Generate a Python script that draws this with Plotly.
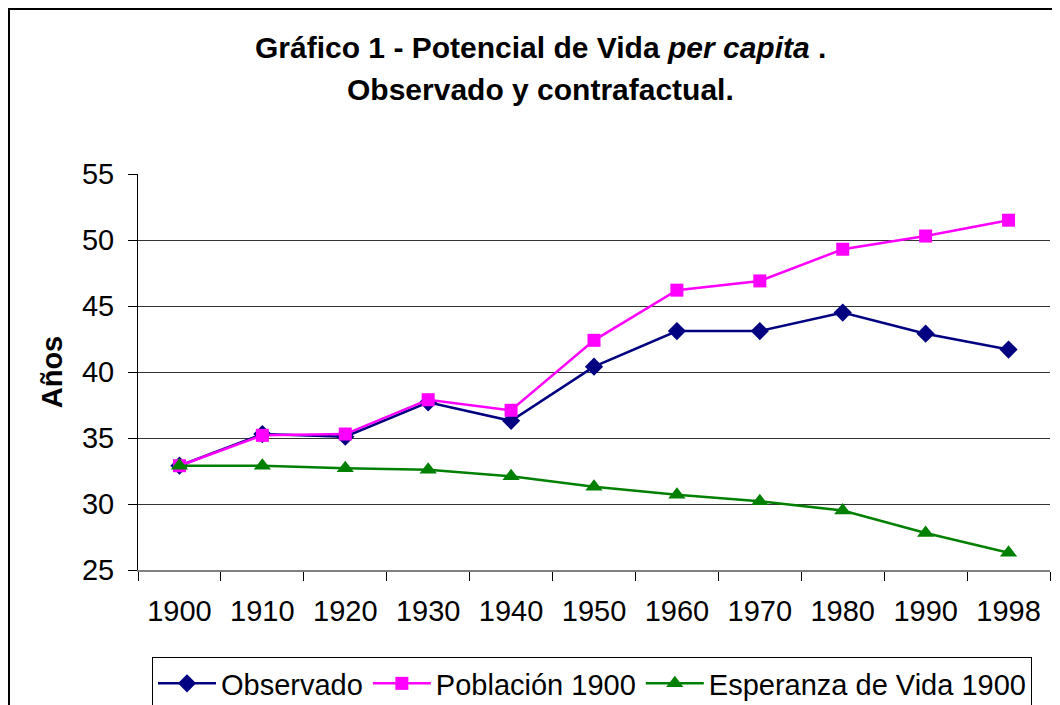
import plotly.graph_objects as go

years = ["1900", "1910", "1920", "1930", "1940", "1950", "1960", "1970", "1980", "1990", "1998"]
observado = [32.9, 35.3, 35.1, 37.7, 36.3, 40.4, 43.1, 43.1, 44.5, 42.9, 41.7]
poblacion_1900 = [32.9, 35.2, 35.3, 37.9, 37.1, 42.4, 46.2, 46.9, 49.3, 50.3, 51.5]
esperanza_1900 = [32.9, 32.9, 32.7, 32.6, 32.1, 31.3, 30.7, 30.2, 29.5, 27.8, 26.3]

FONT = "Liberation Sans, Arial, sans-serif"

# page body has an 8px margin; figure is sized so the plot lands where the reference has it
W, H = 1052, 697
L, T, R, B = 130, 166, 10, 135
PW, PH = W - L - R, H - T - B

def px_x(x):
    return (x - L) / PW

def px_y(y):
    return 1 + (T - y) / PH

fig = go.Figure()
fig.add_trace(go.Scatter(x=years, y=observado, name="Observado", mode="lines+markers",
                         line=dict(color="#000080", width=2.5),
                         marker=dict(symbol="diamond", size=14, color="#000080")))
fig.add_trace(go.Scatter(x=years, y=poblacion_1900, name="Población 1900", mode="lines+markers",
                         line=dict(color="#FF00FF", width=2.5),
                         marker=dict(symbol="square", size=13, color="#FF00FF")))
fig.add_trace(go.Scatter(x=years, y=esperanza_1900, name="Esperanza de Vida 1900", mode="lines+markers",
                         line=dict(color="#008000", width=2.5),
                         marker=dict(symbol="triangle-up", size=15, color="#008000")))

fig.update_layout(
    width=W, height=H,
    margin=dict(l=L, r=R, t=T, b=B, autoexpand=False),
    paper_bgcolor="white", plot_bgcolor="white",
    font=dict(family=FONT, size=29, color="black"),
    showlegend=True,
    legend=dict(orientation="h", x=px_x(584), xanchor="center", y=px_y(649), yanchor="top",
                bordercolor="black", borderwidth=1, bgcolor="white",
                font=dict(family=FONT, size=29, color="black"),
                itemwidth=58, tracegroupgap=0),
    xaxis=dict(type="category", range=[-0.5, len(years) - 0.5], showgrid=False, showline=True,
               linecolor="#808080", linewidth=2,
               ticks="outside", tickson="boundaries", ticklen=9, tickcolor="black", tickwidth=1,
               ticklabelstandoff=14, zeroline=False, tickfont=dict(size=29)),
    yaxis=dict(range=[25, 55], dtick=5, showgrid=True, gridcolor="#333333", gridwidth=1,
               showline=True, linecolor="black", linewidth=1,
               ticks="outside", ticklen=9, tickcolor="black", ticklabelstandoff=8,
               zeroline=False, tickfont=dict(size=29),
               title=dict(text="<b>Años</b>", standoff=10, font=dict(family=FONT, size=29))),
    annotations=[
        dict(text="<b>Gráfico 1 - Potencial de Vida <i>per capita</i> .</b>", xref="paper", yref="paper",
             x=px_x(532), y=px_y(39), xanchor="center", yanchor="middle", showarrow=False,
             font=dict(family=FONT, size=30, color="black")),
        dict(text="<b>Observado y contrafactual.</b>", xref="paper", yref="paper",
             x=px_x(532), y=px_y(82), xanchor="center", yanchor="middle", showarrow=False,
             font=dict(family=FONT, size=30, color="black")),
    ],
    shapes=[dict(type="rect", xref="paper", yref="paper",
                 x0=px_x(1), x1=px_x(W + 20),
                 y0=px_y(H + 20), y1=px_y(1),
                 line=dict(color="black", width=2), fillcolor="rgba(0,0,0,0)", layer="below")],
)

fig.write_html("out.html")
